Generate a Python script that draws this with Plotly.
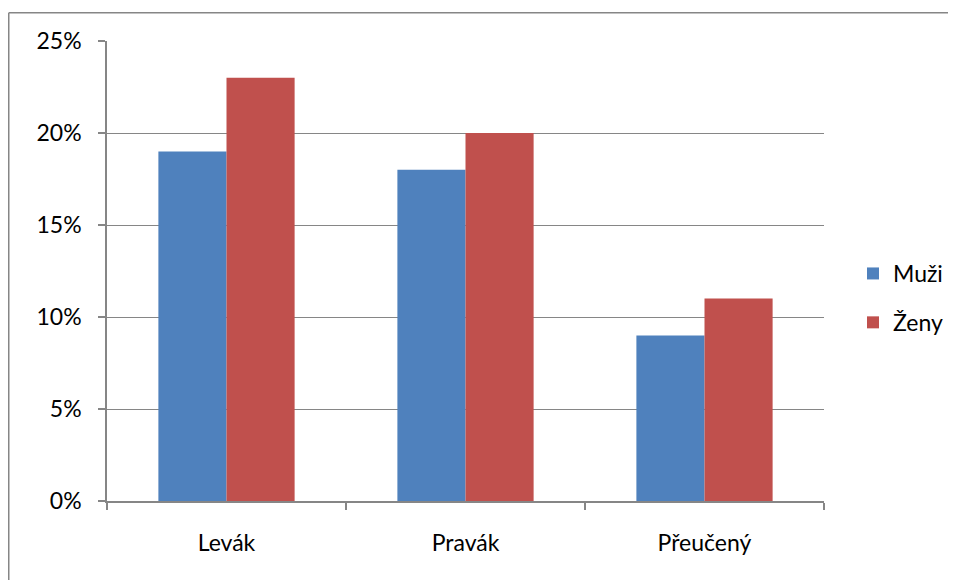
import plotly.graph_objects as go

categories = ["Levák", "Pravák", "Přeučený"]
muzi = [0.19, 0.18, 0.09]
zeny = [0.23, 0.20, 0.11]
series_names = ["Muži", "Ženy"]

# page body has an 8px margin; work in figure coordinates
W, H = 965, 572
L, R, T, B = 99, 816, 33, 493
pw, ph = R - L, B - T

def px_x(x):
    return (x - L) / pw

def px_y(y):
    return (B - y) / ph

FONT = "Lato"
FS = 23
GRAY = "#868686"

fig = go.Figure()
fig.add_trace(go.Bar(x=categories, y=muzi, name=series_names[0],
                     marker=dict(color="#4F81BD", line=dict(width=0)),
                     legendgroup="a"))
fig.add_trace(go.Bar(x=categories, y=zeny, name=series_names[1],
                     marker=dict(color="#C0504D", line=dict(width=0)),
                     legendgroup="b"))

frame = dict(color=GRAY, width=1.5)
fig.update_layout(
    width=W, height=H,
    margin=dict(l=L, r=W - R, t=T, b=H - B, pad=0),
    paper_bgcolor="white", plot_bgcolor="white",
    barmode="group", bargap=0.43, bargroupgap=0,
    font=dict(family=FONT, size=FS, color="#000000"),
    legend=dict(x=px_x(845), y=px_y(290), xanchor="left", yanchor="middle",
                tracegroupgap=16, traceorder="grouped",
                font=dict(family=FONT, size=FS, color="#000000"),
                bgcolor="rgba(0,0,0,0)", itemwidth=30),
    showlegend=True,
    xaxis=dict(type="category", tickson="boundaries", ticks="outside",
               ticklen=7, tickcolor=GRAY, tickwidth=1.5,
               showline=True, linecolor=GRAY, linewidth=1.5,
               showgrid=False, zeroline=False, ticklabelstandoff=21,
               tickfont=dict(family=FONT, size=FS, color="#000000")),
    yaxis=dict(range=[0, 0.25], dtick=0.05, tickformat=".0%",
               ticks="outside", ticklen=7, tickcolor=GRAY, tickwidth=1.5,
               showline=True, linecolor=GRAY, linewidth=1.5,
               showgrid=True, gridcolor=GRAY, gridwidth=1.2,
               zeroline=False, ticklabelstandoff=12,
               tickfont=dict(family=FONT, size=FS, color="#000000")),
    shapes=[
        dict(type="line", xref="paper", yref="paper",
             x0=px_x(0.75), x1=px_x(1000), y0=px_y(4.75), y1=px_y(4.75),
             line=frame, layer="below"),
        dict(type="line", xref="paper", yref="paper",
             x0=px_x(0.75), x1=px_x(0.75), y0=px_y(4.75), y1=px_y(620),
             line=frame, layer="below"),
    ],
)

fig.write_html("out.html", config={"displayModeBar": False})
